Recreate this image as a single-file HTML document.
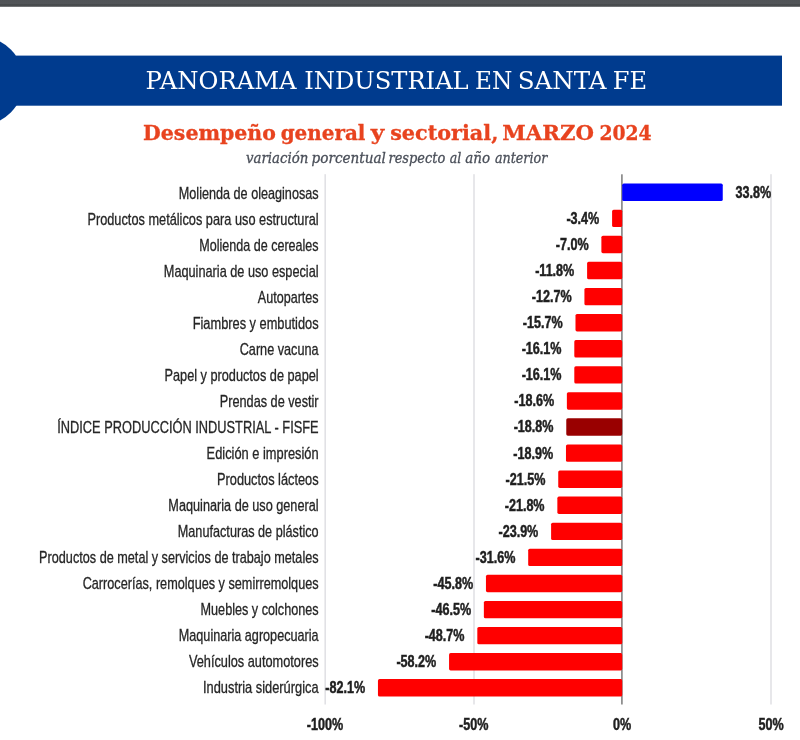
<!DOCTYPE html>
<html lang="es"><head><meta charset="utf-8"><title>Panorama industrial en Santa Fe</title>
<style>
html,body{margin:0;padding:0;background:#fff;}
body{width:800px;height:740px;overflow:hidden;position:relative;font-family:"Liberation Sans",sans-serif;}
svg{position:absolute;left:0;top:0;display:block;}
.cat{font-family:"Liberation Sans",sans-serif;font-size:16px;fill:#262626;stroke:#262626;stroke-width:0.3px;text-anchor:end;}
.val{font-family:"Liberation Sans",sans-serif;font-size:16px;font-weight:bold;fill:#1f1f1f;stroke:#1f1f1f;stroke-width:0.5px;}
.ax{font-family:"Liberation Sans",sans-serif;font-size:16px;font-weight:bold;fill:#1f1f1f;stroke:#1f1f1f;stroke-width:0.5px;text-anchor:middle;}
.t1{font-family:"DejaVu Serif","Liberation Serif",serif;font-size:24px;fill:#fff;}
.t2{font-family:"DejaVu Serif","Liberation Serif",serif;font-size:20.2px;font-weight:bold;fill:#e8431f;stroke:#e8431f;stroke-width:0.3px;}
.t3{font-family:"DejaVu Serif","Liberation Serif",serif;font-size:14px;font-style:italic;fill:#4a4f59;stroke:#4a4f59;stroke-width:0.3px;}
</style></head><body>
<svg width="800" height="740" viewBox="0 0 800 740">
<defs><linearGradient id="tb" x1="0" y1="0" x2="0" y2="1">
<stop offset="0" stop-color="#505356"/><stop offset="0.5" stop-color="#525558"/><stop offset="0.62" stop-color="#474b4d"/><stop offset="0.86" stop-color="#4a4d4f"/><stop offset="1" stop-color="#9a9c9d"/></linearGradient></defs>
<rect x="0" y="0" width="800" height="7" fill="url(#tb)"/>
<circle cx="-20.75" cy="81" r="44.6" fill="#003b8e"/>
<rect x="16" y="55.6" width="766" height="50.1" fill="#003b8e"/>
<text class="t1" y="88.7"><tspan x="145.61" textLength="150.97" lengthAdjust="spacingAndGlyphs">PANORAMA</tspan> <tspan x="304.21" textLength="164.47" lengthAdjust="spacingAndGlyphs">INDUSTRIAL</tspan> <tspan x="474.94" textLength="37.33" lengthAdjust="spacingAndGlyphs">EN</tspan> <tspan x="517.68" textLength="88.93" lengthAdjust="spacingAndGlyphs">SANTA</tspan> <tspan x="612.70" textLength="34.27" lengthAdjust="spacingAndGlyphs">FE</tspan></text>
<text class="t2" y="139.7"><tspan x="143.11" textLength="132.77" lengthAdjust="spacingAndGlyphs">Desempeño</tspan> <tspan x="280.66" textLength="84.73" lengthAdjust="spacingAndGlyphs">general</tspan> <tspan x="370.87" textLength="13.54" lengthAdjust="spacingAndGlyphs">y</tspan> <tspan x="390.15" textLength="108.26" lengthAdjust="spacingAndGlyphs">sectorial,</tspan> <tspan x="502.26" textLength="91.64" lengthAdjust="spacingAndGlyphs">MARZO</tspan> <tspan x="599.41" textLength="52.24" lengthAdjust="spacingAndGlyphs">2024</tspan></text>
<text class="t3" y="163.1"><tspan x="245.95" textLength="62.45" lengthAdjust="spacingAndGlyphs">variación</tspan> <tspan x="311.60" textLength="74.30" lengthAdjust="spacingAndGlyphs">porcentual</tspan> <tspan x="388.45" textLength="56.85" lengthAdjust="spacingAndGlyphs">respecto</tspan> <tspan x="449.70" textLength="11.60" lengthAdjust="spacingAndGlyphs">al</tspan> <tspan x="465.30" textLength="24.80" lengthAdjust="spacingAndGlyphs">año</tspan> <tspan x="494.90" textLength="52.40" lengthAdjust="spacingAndGlyphs">anterior</tspan></text>

<rect x="324.40" y="174.2" width="1.6" height="530.3" fill="#e1e1e5"/>
<rect x="473.20" y="174.2" width="1.6" height="530.3" fill="#e1e1e5"/>
<rect x="770.20" y="174.2" width="1.6" height="530.3" fill="#e1e1e5"/>
<rect x="621.05" y="174.3" width="1.7" height="530.2" fill="#8a8a8a"/>
<rect x="622.20" y="183.60" width="100.55" height="17.4" rx="1.6" fill="#0000ff"/>
<text class="cat" transform="translate(318.6,198.75) scale(0.7909,1)">Molienda de oleaginosas</text>
<text class="val" transform="translate(735.55,197.75) scale(0.787,1)">33.8%</text>
<rect x="612.09" y="209.68" width="10.12" height="17.4" rx="1.6" fill="#ff0000"/>
<text class="cat" transform="translate(318.6,224.77) scale(0.7975,1)">Productos metálicos para uso estructural</text>
<text class="val" text-anchor="end" transform="translate(599.29,223.83) scale(0.787,1)">-3.4%</text>
<rect x="601.38" y="235.76" width="20.82" height="17.4" rx="1.6" fill="#ff0000"/>
<text class="cat" transform="translate(318.6,250.79) scale(0.7847,1)">Molienda de cereales</text>
<text class="val" text-anchor="end" transform="translate(588.58,249.91) scale(0.787,1)">-7.0%</text>
<rect x="587.10" y="261.84" width="35.11" height="17.4" rx="1.6" fill="#ff0000"/>
<text class="cat" transform="translate(318.6,276.81) scale(0.7958,1)">Maquinaria de uso especial</text>
<text class="val" text-anchor="end" transform="translate(574.30,275.99) scale(0.787,1)">-11.8%</text>
<rect x="584.42" y="287.92" width="37.78" height="17.4" rx="1.6" fill="#ff0000"/>
<text class="cat" transform="translate(318.6,302.83) scale(0.7867,1)">Autopartes</text>
<text class="val" text-anchor="end" transform="translate(571.62,302.07) scale(0.787,1)">-12.7%</text>
<rect x="575.49" y="314.00" width="46.71" height="17.4" rx="1.6" fill="#ff0000"/>
<text class="cat" transform="translate(318.6,328.85) scale(0.8002,1)">Fiambres y embutidos</text>
<text class="val" text-anchor="end" transform="translate(562.69,328.15) scale(0.787,1)">-15.7%</text>
<rect x="574.30" y="340.08" width="47.90" height="17.4" rx="1.6" fill="#ff0000"/>
<text class="cat" transform="translate(318.6,354.87) scale(0.7931,1)">Carne vacuna</text>
<text class="val" text-anchor="end" transform="translate(561.50,354.23) scale(0.787,1)">-16.1%</text>
<rect x="574.30" y="366.16" width="47.90" height="17.4" rx="1.6" fill="#ff0000"/>
<text class="cat" transform="translate(318.6,380.89) scale(0.7958,1)">Papel y productos de papel</text>
<text class="val" text-anchor="end" transform="translate(561.50,380.31) scale(0.787,1)">-16.1%</text>
<rect x="566.87" y="392.24" width="55.34" height="17.4" rx="1.6" fill="#ff0000"/>
<text class="cat" transform="translate(318.6,406.91) scale(0.7941,1)">Prendas de vestir</text>
<text class="val" text-anchor="end" transform="translate(554.07,406.39) scale(0.787,1)">-18.6%</text>
<rect x="566.27" y="418.32" width="55.93" height="17.4" rx="1.6" fill="#990000"/>
<text class="cat" transform="translate(318.6,432.93) scale(0.8011,1)">ÍNDICE PRODUCCIÓN INDUSTRIAL - FISFE</text>
<text class="val" text-anchor="end" transform="translate(553.47,432.47) scale(0.787,1)">-18.8%</text>
<rect x="565.97" y="444.40" width="56.23" height="17.4" rx="1.6" fill="#ff0000"/>
<text class="cat" transform="translate(318.6,458.95) scale(0.8025,1)">Edición e impresión</text>
<text class="val" text-anchor="end" transform="translate(553.17,458.55) scale(0.787,1)">-18.9%</text>
<rect x="558.24" y="470.48" width="63.96" height="17.4" rx="1.6" fill="#ff0000"/>
<text class="cat" transform="translate(318.6,484.97) scale(0.7999,1)">Productos lácteos</text>
<text class="val" text-anchor="end" transform="translate(545.44,484.63) scale(0.787,1)">-21.5%</text>
<rect x="557.35" y="496.56" width="64.86" height="17.4" rx="1.6" fill="#ff0000"/>
<text class="cat" transform="translate(318.6,510.99) scale(0.7933,1)">Maquinaria de uso general</text>
<text class="val" text-anchor="end" transform="translate(544.55,510.71) scale(0.787,1)">-21.8%</text>
<rect x="551.10" y="522.64" width="71.10" height="17.4" rx="1.6" fill="#ff0000"/>
<text class="cat" transform="translate(318.6,537.01) scale(0.7923,1)">Manufacturas de plástico</text>
<text class="val" text-anchor="end" transform="translate(538.30,536.79) scale(0.787,1)">-23.9%</text>
<rect x="528.19" y="548.72" width="94.01" height="17.4" rx="1.6" fill="#ff0000"/>
<text class="cat" transform="translate(318.6,563.03) scale(0.7923,1)">Productos de metal y servicios de trabajo metales</text>
<text class="val" text-anchor="end" transform="translate(515.39,562.87) scale(0.787,1)">-31.6%</text>
<rect x="485.95" y="574.80" width="136.25" height="17.4" rx="1.6" fill="#ff0000"/>
<text class="cat" transform="translate(318.6,589.05) scale(0.7931,1)">Carrocerías, remolques y semirremolques</text>
<text class="val" text-anchor="end" transform="translate(473.15,588.95) scale(0.787,1)">-45.8%</text>
<rect x="483.86" y="600.88" width="138.34" height="17.4" rx="1.6" fill="#ff0000"/>
<text class="cat" transform="translate(318.6,615.07) scale(0.7914,1)">Muebles y colchones</text>
<text class="val" text-anchor="end" transform="translate(471.06,615.03) scale(0.787,1)">-46.5%</text>
<rect x="477.32" y="626.96" width="144.88" height="17.4" rx="1.6" fill="#ff0000"/>
<text class="cat" transform="translate(318.6,641.09) scale(0.7909,1)">Maquinaria agropecuaria</text>
<text class="val" text-anchor="end" transform="translate(464.52,641.11) scale(0.787,1)">-48.7%</text>
<rect x="449.06" y="653.04" width="173.15" height="17.4" rx="1.6" fill="#ff0000"/>
<text class="cat" transform="translate(318.6,667.11) scale(0.7972,1)">Vehículos automotores</text>
<text class="val" text-anchor="end" transform="translate(436.26,667.19) scale(0.787,1)">-58.2%</text>
<rect x="377.95" y="679.12" width="244.25" height="17.4" rx="1.6" fill="#ff0000"/>
<text class="cat" transform="translate(318.6,693.13) scale(0.8028,1)">Industria siderúrgica</text>
<text class="val" text-anchor="end" transform="translate(365.15,693.27) scale(0.787,1)">-82.1%</text>
<text class="ax" transform="translate(324.90,730) scale(0.787,1)">-100%</text>
<text class="ax" transform="translate(473.70,730) scale(0.787,1)">-50%</text>
<text class="ax" transform="translate(622.10,730) scale(0.787,1)">0%</text>
<text class="ax" transform="translate(771.20,730) scale(0.787,1)">50%</text>
</svg></body></html>
